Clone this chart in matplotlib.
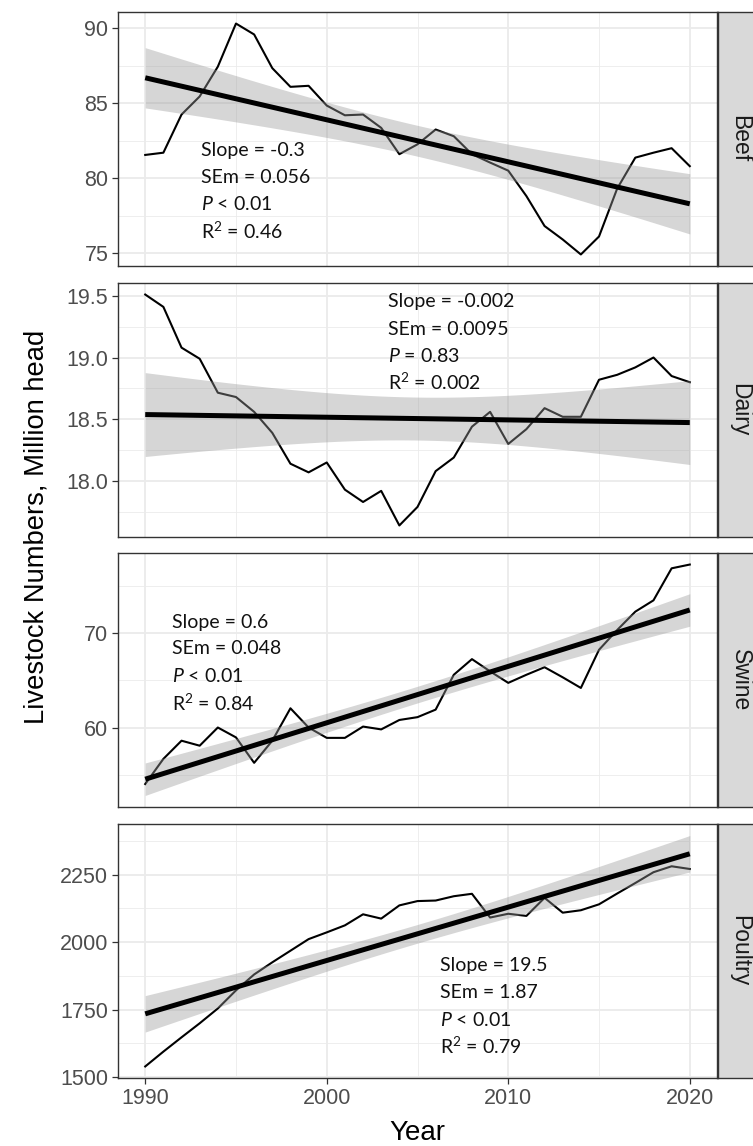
import numpy as np
import matplotlib
matplotlib.use("Agg")
import matplotlib.pyplot as plt
from matplotlib.ticker import MultipleLocator, FormatStrFormatter

plt.rcParams['font.family'] = ['Liberation Sans', 'DejaVu Sans']
plt.rcParams['mathtext.fontset'] = 'custom'
plt.rcParams['mathtext.rm'] = 'Lato'
plt.rcParams['mathtext.it'] = 'Lato:italic'

years = list(range(1990, 2021))

beef = [81.55, 81.7, 84.25, 85.46, 87.45, 90.33, 89.6, 87.35, 86.1, 86.17,
        84.85, 84.2, 84.25, 83.36, 81.6, 82.26, 83.25, 82.8, 81.6, 81.04,
        80.5, 78.8, 76.8, 75.9, 74.9, 76.1, 79.3, 81.37, 81.7, 82.0, 80.8]
dairy = [19.51, 19.41, 19.08, 18.99, 18.715, 18.68, 18.56, 18.39, 18.14, 18.07,
         18.15, 17.93, 17.83, 17.92, 17.64, 17.79, 18.08, 18.19, 18.44, 18.56,
         18.30, 18.42, 18.59, 18.52, 18.52, 18.82, 18.86, 18.92, 19.0, 18.85, 18.80]
swine = [54.0, 56.67, 58.6, 58.07, 60.0, 58.95, 56.25, 58.6, 62.04, 60.0,
         58.9, 58.9, 60.1, 59.8, 60.8, 61.1, 61.9, 65.6, 67.26, 65.96,
         64.74, 65.6, 66.4, 65.33, 64.2, 68.25, 70.35, 72.3, 73.5, 76.9, 77.3]
poultry = [1539, 1594, 1647, 1699, 1754, 1821, 1880, 1925, 1968, 2011,
           2036, 2062, 2103, 2087, 2136, 2152, 2154, 2170, 2179, 2091,
           2105, 2097, 2164, 2109, 2118, 2140, 2180, 2219, 2259, 2281, 2271]

panels = ["Beef", "Dairy", "Swine", "Poultry"]
series = [beef, dairy, swine, poultry]
stats = [
    ["Slope = -0.3", "SEm = 0.056", "$\\mathit{P}$ < 0.01", "R$^2$ = 0.46"],
    ["Slope = -0.002", "SEm = 0.0095", "$\\mathit{P}$ = 0.83", "R$^2$ = 0.002"],
    ["Slope = 0.6", "SEm = 0.048", "$\\mathit{P}$ < 0.01", "R$^2$ = 0.84"],
    ["Slope = 19.5", "SEm = 1.87", "$\\mathit{P}$ < 0.01", "R$^2$ = 0.79"],
]
# label anchor (x, y of each line) in data units
stat_x = [1993.1, 2003.4, 1991.5, 2006.25]
stat_y = [[81.87, 80.05, 78.25, 76.48],
          [19.454, 19.23, 19.01, 18.80],
          [71.12, 68.35, 65.44, 62.57],
          [1913, 1813, 1711, 1613]]
major_step = [5, 0.5, 10, 250]
fmt = ["%d", "%.1f", "%d", "%d"]

T_CRIT = 2.045  # t(0.975, df=29)

W, H = 753, 1146
fig = plt.figure(figsize=(W / 100, H / 100), dpi=100)

tops = [12, 283, 553, 824]
ph = 254
left, right = 118, 717

for i, name in enumerate(panels):
    y = np.array(series[i], dtype=float)
    x = np.array(years, dtype=float)
    ax = fig.add_axes([left / W, 1 - (tops[i] + ph) / H, (right - left) / W, ph / H])

    # linear fit with 95% confidence band
    n = len(x)
    xm, ym = x.mean(), y.mean()
    sxx = ((x - xm) ** 2).sum()
    b = ((x - xm) * (y - ym)).sum() / sxx
    a = ym - b * xm
    xs = np.linspace(x.min(), x.max(), 100)
    yh = a + b * xs
    s = np.sqrt(((y - (a + b * x)) ** 2).sum() / (n - 2))
    se = s * np.sqrt(1 / n + (xs - xm) ** 2 / sxx)
    lo, hi = yh - T_CRIT * se, yh + T_CRIT * se

    ax.plot(x, y, color='black', lw=1.5, zorder=3)
    ax.fill_between(xs, lo, hi, color='#999999', alpha=0.4, lw=0, zorder=4)
    ax.plot(xs, yh, color='black', lw=3.6, zorder=5, solid_capstyle='butt')

    ymin = min(y.min(), lo.min())
    ymax = max(y.max(), hi.max())
    pad = (ymax - ymin) * 0.05
    ax.set_ylim(ymin - pad, ymax + pad)
    ax.set_xlim(1988.5, 2021.5)

    ax.xaxis.set_major_locator(MultipleLocator(10))
    ax.xaxis.set_minor_locator(MultipleLocator(5))
    ax.yaxis.set_major_locator(MultipleLocator(major_step[i]))
    ax.yaxis.set_minor_locator(MultipleLocator(major_step[i] / 2))
    ax.yaxis.set_major_formatter(FormatStrFormatter(fmt[i]))
    ax.grid(which='major', color='#EBEBEB', lw=1.3, zorder=0)
    ax.grid(which='minor', color='#EBEBEB', lw=0.6, zorder=0)
    ax.set_axisbelow(True)
    for sp in ax.spines.values():
        sp.set_color('#333333')
        sp.set_linewidth(1.0)
    ax.tick_params(which='major', length=4, width=0.9, color='#333333',
                   labelsize=15.5, labelcolor='#4D4D4D', pad=3)
    ax.tick_params(which='minor', length=0)
    if i < 3:
        ax.tick_params(axis='x', which='both', length=0, labelbottom=False)

    for k, line in enumerate(stats[i]):
        ax.text(stat_x[i], stat_y[i][k], line, fontsize=14, family='Lato',
                color='#111111', ha='left', va='center', zorder=6)

    # facet strip
    sax = fig.add_axes([718 / W, 1 - (tops[i] + ph) / H, 44 / W, ph / H])
    sax.set_facecolor('#D9D9D9')
    sax.set_xticks([])
    sax.set_yticks([])
    sax.set_xlim(0, 44)
    sax.set_ylim(0, 1)
    for sp in sax.spines.values():
        sp.set_color('#333333')
        sp.set_linewidth(1.0)
    sax.text(740 - 718, 0.5, name, rotation=-90, ha='center', va='center',
             fontsize=16.5, color='#1A1A1A')

fig.text(417.5 / W, 1 - 1133 / H, "Year", ha='center', va='center', fontsize=20)
fig.text(37 / W, 1 - 527 / H, "Livestock Numbers, Million head", rotation=90,
         ha='center', va='center', fontsize=19.7)

fig.savefig("out.png", dpi=100)
